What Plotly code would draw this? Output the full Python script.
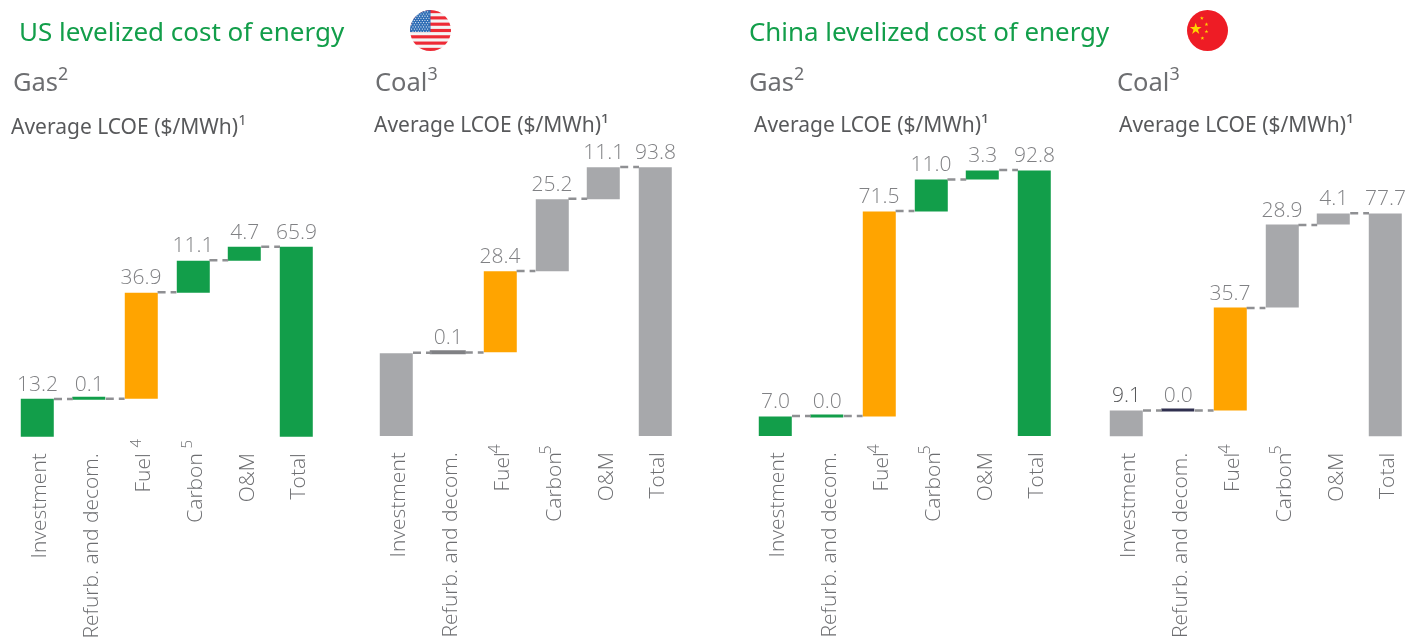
import base64
import math
import plotly.graph_objects as go

CATEGORIES = ["Investment", "Refurb. and decom.", "Fuel", "Carbon", "O&M", "Total"]
FOOTNOTE_MARKS = {2: "4", 3: "5"}

US_GAS_VALUES = [13.2, 0.1, 36.9, 11.1, 4.7, 65.9]
US_COAL_VALUES = [29.0, 0.1, 28.4, 25.2, 11.1, 93.8]
CN_GAS_VALUES = [7.0, 0.0, 71.5, 11.0, 3.3, 92.8]
CN_COAL_VALUES = [9.1, 0.0, 35.7, 28.9, 4.1, 77.7]

US_GAS_LABELS = ["13.2", "0.1", "36.9", "11.1", "4.7", "65.9"]
US_COAL_LABELS = ["", "0.1", "28.4", "25.2", "11.1", "93.8"]
CN_GAS_LABELS = ["7.0", "0.0", "71.5", "11.0", "3.3", "92.8"]
CN_COAL_LABELS = ["9.1", "0.0", "35.7", "28.9", "4.1", "77.7"]

GREEN = "#129e4a"
GREY = "#a7a8ab"
ORANGE = "#ffa400"
NAVY = "#2f2f4f"
TEXT = "#6d6e71"
LABEL = "#808184"
DARK = "#58595b"
FONT = "Open Sans"
HEAD = "Noto Sans"

W, H = 1408, 638
BAR = 33
PITCH = 51.8

charts = [
    dict(vals=US_GAS_VALUES, labs=US_GAS_LABELS, left=37.5, base=437, scale=2.883,
         cols=[GREEN, GREEN, ORANGE, GREEN, GREEN, GREEN], sup_y=438, sup_size=15, lc=[LABEL] * 6),
    dict(vals=US_COAL_VALUES, labs=US_COAL_LABELS, left=396.5, base=436, scale=2.868,
         cols=[GREY, "#808184", ORANGE, GREY, GREY, GREY], sup_y=444, sup_size=16, lc=[LABEL] * 6),
    dict(vals=CN_GAS_VALUES, labs=CN_GAS_LABELS, left=775.5, base=436, scale=2.866,
         cols=[GREEN, GREEN, ORANGE, GREEN, GREEN, GREEN], sup_y=444, sup_size=16, lc=[LABEL] * 6),
    dict(vals=CN_COAL_VALUES, labs=CN_COAL_LABELS, left=1126.5, base=436.5, scale=2.87,
         cols=[GREY, NAVY, ORANGE, GREY, GREY, GREY], sup_y=444, sup_size=16,
         lc=[DARK, LABEL, LABEL, LABEL, LABEL, LABEL]),
]

fig = go.Figure()
for n, c in enumerate(charts, start=1):
    vals = c["vals"]
    xs = list(range(len(vals)))
    bases, level = [], 0.0
    for i, v in enumerate(vals):
        if i == len(vals) - 1:
            bases.append(0.0)
        else:
            bases.append(level)
            level += v
    tops = [b + v for b, v in zip(bases, vals)]
    xa, ya = f"x{n}", f"y{n}"
    half = BAR / PITCH / 2
    cx, cy = [], []
    for i in range(len(vals) - 1):
        lev = tops[i]
        cx += [i + half, i + 1 - half, None]
        cy += [lev, lev, None]
    fig.add_trace(go.Scatter(x=cx, y=cy, mode="lines", xaxis=xa, yaxis=ya, showlegend=False,
                             line=dict(color="#8f9093", width=2.5, dash="8px,5px"), hoverinfo="skip"))
    fig.add_trace(go.Bar(x=xs, y=vals, base=bases, xaxis=xa, yaxis=ya, width=BAR / PITCH, showlegend=False,
                         marker=dict(color=c["cols"], line=dict(color=c["cols"],
                                     width=[3 if v < 1 else 0 for v in vals]))))
    fig.add_trace(go.Scatter(x=xs, y=tops, mode="markers+text", text=c["labs"], textposition="top center",
                             xaxis=xa, yaxis=ya, showlegend=False, cliponaxis=False,
                             marker=dict(size=3, color="rgba(0,0,0,0)"),
                             textfont=dict(family=FONT, size=21, color=c["lc"], weight=300)))
    x0 = c["left"] - PITCH * 0.4
    x1 = c["left"] + PITCH * 5.4
    y_top = c["base"] - 100 * c["scale"]
    fig.update_layout({
        f"xaxis{'' if n == 1 else n}": dict(
            domain=[x0 / W, x1 / W], range=[-0.4, 5.4], anchor=ya, tickmode="array", tickvals=xs,
            ticktext=CATEGORIES, tickangle=-90,
            tickfont=dict(family=FONT, size=21, color=TEXT, weight=300), showline=False, showgrid=False,
            zeroline=False, ticks="", ticklen=0, ticklabelstandoff=11, ticklabelshift=2, automargin=False),
        f"yaxis{'' if n == 1 else n}": dict(
            domain=[1 - c["base"] / H, 1 - y_top / H], range=[0, 100], anchor=xa, visible=False,
            showgrid=False, zeroline=False),
    })
    for pos, mark in FOOTNOTE_MARKS.items():
        fig.add_annotation(text=mark, x=pos, xref=xa, y=1 - c["sup_y"] / H, yref="paper", xanchor="center",
                           yanchor="top", textangle=-90, xshift=-7, showarrow=False,
                           font=dict(family=FONT, size=c["sup_size"], color=TEXT, weight=300), borderpad=0)


def note(text, x, y, size, color, family=HEAD):
    fig.add_annotation(text=text, x=x / W, y=1 - y / H, xref="paper", yref="paper", xanchor="left",
                       yanchor="middle", showarrow=False, font=dict(family=family, size=size, color=color))


note("US levelized cost of energy", 17, 31, 26, GREEN)
note("China levelized cost of energy", 747, 31, 25.9, GREEN)
for x, t in [(11, "Gas<sup>2</sup>"), (373, "Coal<sup>3</sup>"), (747, "Gas<sup>2</sup>"), (1115, "Coal<sup>3</sup>")]:
    note(t, x, 79, 25.5, TEXT)
note("Average LCOE ($/MWh)<sup>1</sup>", 9, 124, 21, DARK)
for x in (372, 752, 1117):
    note("Average LCOE ($/MWh)¹", x, 124, 21, DARK)

stripes = "".join(f'<rect y="{i * 40 / 13:.2f}" width="40" height="{40 / 13:.2f}" fill="#ee2a35"/>' for i in range(0, 13, 2))
dots = "".join(f'<circle cx="{1.6 + col * 2.6 + (row % 2) * 1.3:.1f}" cy="{1.8 + row * 2.1:.1f}" r="0.55" fill="#fff"/>'
               for row in range(10) for col in range(7))
us_svg = (f'<svg xmlns="http://www.w3.org/2000/svg" viewBox="0 0 40 40"><defs><clipPath id="c"><circle cx="20" cy="20" r="20"/></clipPath></defs>'
          f'<g clip-path="url(#c)"><rect width="40" height="40" fill="#f4f4f4"/>{stripes}<rect width="20" height="21.5" fill="#2f6db5"/>{dots}</g></svg>')


def star(cx, cy, r):
    pts = []
    for i in range(10):
        a = -math.pi / 2 + i * math.pi / 5
        rr = r if i % 2 == 0 else r * 0.382
        pts.append(f"{cx + rr * math.cos(a):.2f},{cy + rr * math.sin(a):.2f}")
    return f'<polygon points="{" ".join(pts)}" fill="#ffd400"/>'


cn_svg = ('<svg xmlns="http://www.w3.org/2000/svg" viewBox="0 0 40 40"><circle cx="20" cy="20" r="20" fill="#ee1c25"/>'
          + star(8.5, 18.5, 6) + star(14.5, 8, 2) + star(19, 14, 2) + star(19, 21, 2) + star(15, 27.5, 2) + "</svg>")

for svg, x, y in [(us_svg, 410, 10), (cn_svg, 1187, 10)]:
    uri = "data:image/svg+xml;base64," + base64.b64encode(svg.encode()).decode()
    fig.add_layout_image(source=uri, xref="paper", yref="paper", x=x / W, y=1 - y / H,
                         sizex=41 / W, sizey=41 / H, xanchor="left", yanchor="top", layer="above", sizing="stretch")

fig.update_layout(width=W, height=H, autosize=False, margin=dict(l=0, r=0, t=0, b=0),
                  paper_bgcolor="white", plot_bgcolor="white", showlegend=False, barmode="overlay", bargap=0)
fig.write_html("out.html", config={"displayModeBar": False},
               post_script="document.body.style.margin='0';document.documentElement.style.overflow='hidden';"
                           "document.querySelectorAll('.main-svg').forEach(function(s){s.style.willChange='transform';});")
